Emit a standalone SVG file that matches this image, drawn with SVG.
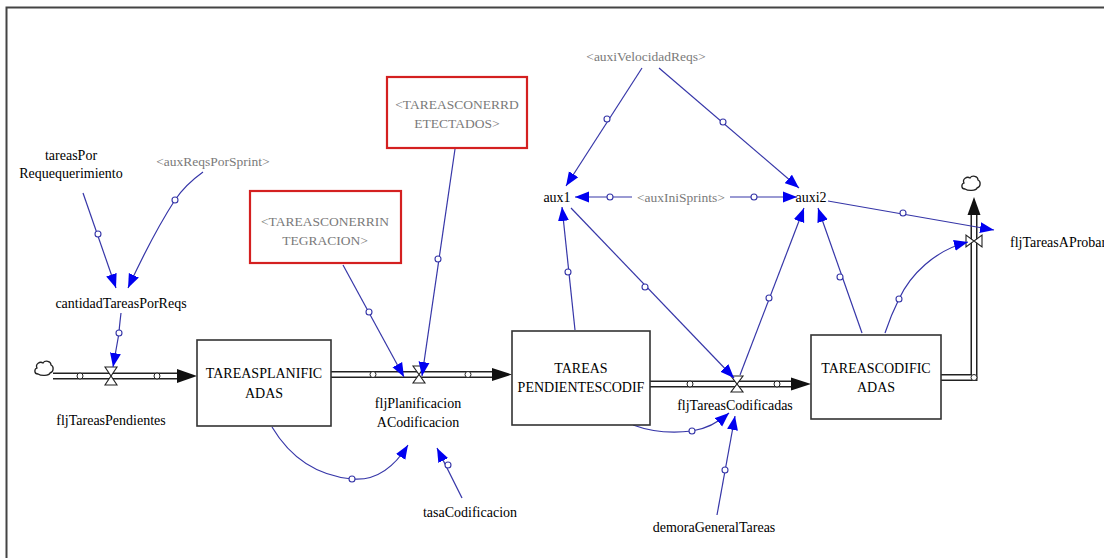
<svg xmlns="http://www.w3.org/2000/svg" width="1104" height="558" viewBox="0 0 1104 558">
<style>
text{font-family:'Liberation Serif','DejaVu Serif','Times New Roman',serif;font-size:14px;}
.lbl{fill:#000;text-anchor:middle;}
.sh{fill:#7a7a7a;text-anchor:middle;font-size:13.5px;}
.stock{fill:#fff;stroke:#333;stroke-width:1.6;}
.red{fill:#fff;stroke:#d42020;stroke-width:2.2;}
.con{fill:none;stroke:#3636a8;stroke-width:1.2;marker-end:url(#ab);}
.hc{fill:#fff;stroke:#3636a8;stroke-width:1.1;}
.pb{fill:none;stroke:#222;stroke-width:7;}
.pw{fill:none;stroke:#fff;stroke-width:4;}
.pc{fill:#fff;stroke:#222;stroke-width:1;}
.valve{fill:#fff;stroke:#222;stroke-width:1.1;}
.cloud{fill:#fff;stroke:#222;stroke-width:1.3;}
</style>
<defs>
<marker id="ab" markerUnits="userSpaceOnUse" markerWidth="15" markerHeight="12" refX="14" refY="5.5" orient="auto" viewBox="0 0 15 11">
<path d="M0,0 L14,5.5 L0,11 z" fill="#0000f0"/>
</marker>
<path id="cl" d="M-6,5 C-10,5 -10,0 -7,-1 C-9,-5 -4,-8 -1,-6 C1,-9 7,-8 7,-4 C10,-3 10,3 6,4 C5,7 -3,7 -6,5 Z"/>
</defs>
<rect width="1104" height="558" fill="#fff"/>
<path d="M1104,7.5 H6.5 V558" fill="none" stroke="#444" stroke-width="2"/>

<g id="flows">
<use href="#cl" x="44" y="369" class="cloud"/>
<line x1="53" y1="376" x2="182" y2="376" class="pb"/>
<line x1="53" y1="376" x2="182" y2="376" class="pw"/>
<path d="M177,369 L197,376 L177,383 z" fill="#111"/>
<circle cx="80" cy="376" r="3" class="pc"/>
<circle cx="157" cy="376" r="3" class="pc"/>
<path d="M105,367 L117,367 L111,376 z M105,385 L117,385 L111,376 z" class="valve"/>

<line x1="331" y1="374.5" x2="495" y2="374.5" class="pb"/>
<line x1="331" y1="374.5" x2="495" y2="374.5" class="pw"/>
<path d="M492,368 L512,374.5 L492,381 z" fill="#111"/>
<circle cx="373" cy="374.5" r="3" class="pc"/>
<circle cx="468" cy="374.5" r="3" class="pc"/>
<path d="M413,366 L425,366 L419,374.5 z M413,383 L425,383 L419,374.5 z" class="valve"/>

<line x1="650" y1="384" x2="794" y2="384" class="pb"/>
<line x1="650" y1="384" x2="794" y2="384" class="pw"/>
<path d="M791,377.5 L811,384 L791,390.5 z" fill="#111"/>
<circle cx="690" cy="384" r="3" class="pc"/>
<circle cx="777" cy="384" r="3" class="pc"/>
<path d="M731,376 L743,376 L737,384 z M731,392 L743,392 L737,384 z" class="valve"/>

<path d="M941,377.5 H974 V212" class="pb" stroke-linejoin="miter"/>
<path d="M941,377.5 H974 V212" class="pw" stroke-linejoin="miter"/>
<path d="M967.5,215 L974,197 L980.5,215 z" fill="#111"/>
<circle cx="974" cy="377.5" r="3" class="pc"/>
<path d="M966,235 L966,247 L974,241 z M982,235 L982,247 L974,241 z" class="valve"/>
<use href="#cl" x="971" y="184" class="cloud"/>
</g>

<g id="connectors">
<path class="con" d="M83,193 L116,288"/>
<circle class="hc" cx="98" cy="234" r="3"/>
<path class="con" d="M203,172 Q185,185 175,200 Q153,234 128,288"/>
<circle class="hc" cx="175" cy="200" r="3"/>
<path class="con" d="M121,313 Q119,330 119,333 Q116,350 113,367"/>
<circle class="hc" cx="119" cy="333" r="3"/>

<path class="con" d="M343,265 L404,377"/>
<circle class="hc" cx="369" cy="312" r="3"/>
<path class="con" d="M455,149 L422,376"/>
<circle class="hc" cx="438" cy="259" r="3"/>
<path class="con" d="M272,427 Q300,474 352,479 Q385,482 408,445"/>
<circle class="hc" cx="352" cy="479" r="3"/>
<path class="con" d="M462,498 L437,448"/>
<circle class="hc" cx="448" cy="465" r="3"/>

<path class="con" d="M642,68 L566,186"/>
<circle class="hc" cx="607" cy="119" r="3"/>
<path class="con" d="M659,68 L799,188"/>
<circle class="hc" cx="723" cy="122" r="3"/>
<path class="con" d="M632,197 L575,197"/>
<circle class="hc" cx="610" cy="197" r="3"/>
<path class="con" d="M730,197 L797,197"/>
<circle class="hc" cx="754" cy="197" r="3"/>

<path class="con" d="M575,330 L562,207"/>
<circle class="hc" cx="568" cy="272" r="3"/>
<path class="con" d="M571,208 L734,378"/>
<circle class="hc" cx="645" cy="287" r="3"/>
<path class="con" d="M740,375 L804,208"/>
<circle class="hc" cx="769" cy="298" r="3"/>
<path class="con" d="M862,333 L818,208"/>
<circle class="hc" cx="840" cy="277" r="3"/>
<path class="con" d="M885,333 Q891,315 899,299 C910,275 935,250 968,242"/>
<circle class="hc" cx="899" cy="299" r="3"/>
<path class="con" d="M828,201 L994,230"/>
<circle class="hc" cx="903" cy="213" r="3"/>

<path class="con" d="M633,425 Q660,435 692,431 Q712,428 729,413"/>
<circle class="hc" cx="692" cy="431" r="3"/>
<path class="con" d="M717,515 L735,416"/>
<circle class="hc" cx="725" cy="470" r="3"/>
</g>

<g id="labels">
<g id="tareasPorRequequerimiento"><text class="lbl" x="71" y="160">tareasPor</text><text class="lbl" x="71" y="178">Requequerimiento</text></g>
<g id="auxReqsPorSprint"><text class="sh" x="213" y="166">&lt;auxReqsPorSprint&gt;</text></g>
<g id="cantidadTareasPorReqs"><text class="lbl" x="121" y="308">cantidadTareasPorReqs</text></g>
<g id="fljTareasPendientes"><text class="lbl" x="111" y="425">fljTareasPendientes</text></g>
<g id="TAREASPLANIFICADAS"><rect class="stock" x="197" y="340" width="134" height="86"/><text class="lbl" x="264" y="378">TAREASPLANIFIC</text><text class="lbl" x="264" y="398">ADAS</text></g>
<g id="TAREASCONERRINTEGRACION"><rect class="red" x="250" y="191" width="151" height="72"/><text class="sh" x="325" y="226">&lt;TAREASCONERRIN</text><text class="sh" x="325" y="245">TEGRACION&gt;</text></g>
<g id="TAREASCONERRDETECTADOS"><rect class="red" x="387" y="77" width="140" height="71"/><text class="sh" x="457" y="109">&lt;TAREASCONERRD</text><text class="sh" x="457" y="128">ETECTADOS&gt;</text></g>
<g id="fljPlanificacionACodificacion"><text class="lbl" x="418" y="408">fljPlanificacion</text><text class="lbl" x="418" y="427">ACodificacion</text></g>
<g id="tasaCodificacion"><text class="lbl" x="470" y="517">tasaCodificacion</text></g>
<g id="TAREASPENDIENTESCODIF"><rect class="stock" x="512" y="331" width="138" height="94"/><text class="lbl" x="581" y="373">TAREAS</text><text class="lbl" x="581" y="392">PENDIENTESCODIF</text></g>
<g id="fljTareasCodificadas"><text class="lbl" x="735" y="410">fljTareasCodificadas</text></g>
<g id="demoraGeneralTareas"><text class="lbl" x="714" y="532">demoraGeneralTareas</text></g>
<g id="TAREASCODIFICADAS"><rect class="stock" x="811" y="335" width="130" height="84"/><text class="lbl" x="876" y="373">TAREASCODIFIC</text><text class="lbl" x="876" y="392">ADAS</text></g>
<g id="auxiVelocidadReqs"><text class="sh" x="646" y="61">&lt;auxiVelocidadReqs&gt;</text></g>
<g id="aux1"><text class="lbl" x="557" y="202">aux1</text></g>
<g id="auxIniSprints"><text class="sh" x="681" y="202">&lt;auxIniSprints&gt;</text></g>
<g id="auxi2"><text class="lbl" x="811" y="202">auxi2</text></g>
<g id="fljTareasAProbar"><text class="lbl" x="1010" y="247" style="text-anchor:start">fljTareasAProbar</text></g>
</g>
</svg>
